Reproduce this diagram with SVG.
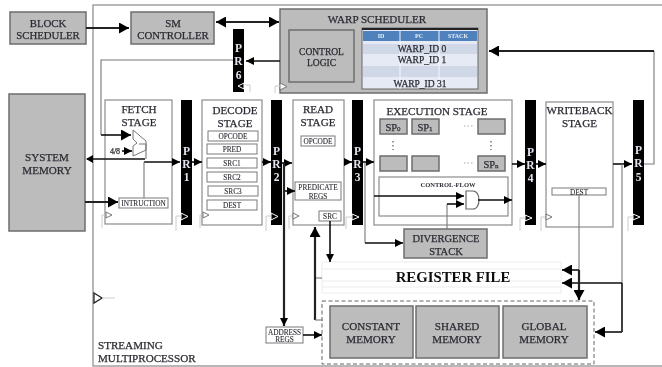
<svg xmlns="http://www.w3.org/2000/svg" width="662" height="367" viewBox="0 0 662 367">
<style>
text{font-family:"Liberation Serif","Times New Roman",serif;fill:#2c2c34;stroke:#2c2c34;stroke-width:0.25;text-anchor:middle}
.g{fill:#bcbcbc;stroke:#6e6e6e;stroke-width:1.5}
.s{fill:#fff;stroke:#8c8c8c;stroke-width:1.2}
.f{fill:#fff;stroke:#7a7a7a;stroke-width:1}
.pr{fill:#000}
.pt{fill:#e4e4f0;stroke:none;font-size:11.500px;font-weight:bold}
.l{font-size:10.800px}
.m{font-size:11.100px}
.t{font-size:7.300px;stroke-width:0.1}
.w{font-size:9.500px}
.sp{font-size:10.500px}
.c{fill:none;stroke:#111;stroke-width:1.6}
.c2{fill:none;stroke:#777;stroke-width:1.1}
.c3{fill:none;stroke:#222;stroke-width:2.2}
.clk{fill:#fff;stroke:#777;stroke-width:1}
.clkb{fill:#000;stroke:#fff;stroke-width:1}
.tick{fill:none;stroke:#ccc;stroke-width:1}
.rf{fill:none;stroke:#ececec;stroke-width:1}
</style>
<defs>
<filter id="soft" x="0" y="0" width="100%" height="100%"><feGaussianBlur stdDeviation="0.35"/></filter>
<marker id="a" markerUnits="userSpaceOnUse" markerWidth="11" markerHeight="11" refX="10" refY="5.500" orient="auto-start-reverse"><path d="M0 0L10 5.500L0 11Z" fill="#000"/></marker>
<marker id="b" markerUnits="userSpaceOnUse" markerWidth="9" markerHeight="8" refX="8" refY="4" orient="auto-start-reverse"><path d="M0 0L8 4L0 8Z" fill="#000"/></marker>
</defs>
<g filter="url(#soft)">
<rect width="662" height="367" fill="#fff"/>
<rect x="93" y="5" width="575" height="361" fill="#fff" stroke="#999" stroke-width="1.4"/>

<g id="block-scheduler"><rect class="g" x="10" y="12" width="76" height="32"/><text class="l" x="48" y="26.500">BLOCK</text><text class="l" x="48" y="39">SCHEDULER</text></g>
<g id="sm-controller"><rect class="g" x="131" y="12" width="83" height="32"/><text class="l" x="173" y="26.500">SM</text><text class="l" x="173" y="39">CONTROLLER</text></g>
<g id="warp-scheduler">
<rect class="g" x="280" y="9" width="207" height="84"/>
<text class="m" x="377" y="23">WARP SCHEDULER</text>
<rect class="g" x="289" y="30" width="65" height="52"/>
<text class="w" x="321.500" y="55">CONTROL</text><text class="w" x="321.500" y="66">LOGIC</text>
<rect x="362" y="28" width="116" height="61" fill="#e6eaf4" stroke="#666" stroke-width="1"/>
<rect x="362" y="28" width="116" height="2" fill="#222"/>
<rect x="363" y="31" width="114" height="10" fill="#4f81bd"/>
<rect x="363" y="44" width="114" height="10" fill="#d0d8e8"/>
<rect x="363" y="66" width="114" height="11" fill="#d0d8e8"/>
<path d="M400 31V89M439 31V89" stroke="#f4f6fb" stroke-width="1" fill="none"/>
<text x="381" y="38" font-size="6" font-weight="bold" style="fill:#e8eef8;stroke:none">ID</text>
<text x="419" y="38" font-size="6" font-weight="bold" style="fill:#e8eef8;stroke:none">PC</text>
<text x="458" y="38" font-size="6" font-weight="bold" style="fill:#e8eef8;stroke:none">STACK</text>
<text class="w" x="422" y="52">WARP_ID 0</text>
<text class="w" x="422" y="63">WARP_ID 1</text>
<text class="w" x="420" y="87">WARP_ID 31</text>
</g>
<g id="pr6"><rect class="pr" x="233" y="29" width="11" height="63"/><text class="pt" x="238.500" y="52">P</text><text class="pt" x="238.500" y="65">R</text><text class="pt" x="238.500" y="79">6</text></g>
<g id="system-memory"><rect class="g" x="9" y="94" width="76" height="137"/><text class="m" x="47" y="161">SYSTEM</text><text class="m" x="47" y="174">MEMORY</text></g>

<g id="fetch-stage">
<rect class="s" x="105" y="100" width="67" height="124"/>
<text class="m" x="139" y="113">FETCH</text><text class="m" x="139" y="126">STAGE</text>
<path d="M133 130L146 141V150L133 156V146L137 143L133 139Z" fill="#fff" stroke="#777" stroke-width="1"/>
<text x="115" y="154" font-size="8">4/8</text>
<g><rect class="f" x="119" y="198" width="49" height="10"/><text class="t" x="143.500" y="206">INTRUCTION</text></g>
</g>
<g id="pr1"><rect class="pr" x="181" y="100" width="11" height="125"/><text class="pt" x="186.500" y="155">P</text><text class="pt" x="186.500" y="168">R</text><text class="pt" x="186.500" y="181">1</text></g>
<g id="decode-stage">
<rect class="s" x="202" y="100" width="60" height="125"/>
<text class="m" x="235" y="114">DECODE</text><text class="m" x="235" y="127">STAGE</text>
<rect class="f" x="208" y="131" width="50" height="10"/><text class="t" x="233" y="139">OPCODE</text>
<rect class="f" x="207" y="144" width="50" height="10"/><text class="t" x="232" y="152">PRED</text>
<rect class="f" x="207" y="158" width="50" height="10"/><text class="t" x="232" y="166">SRC1</text>
<rect class="f" x="207" y="172" width="50" height="10"/><text class="t" x="232" y="180">SRC2</text>
<rect class="f" x="208" y="186" width="50" height="10"/><text class="t" x="233" y="194">SRC3</text>
<rect class="f" x="207" y="200" width="50" height="10"/><text class="t" x="232" y="208">DEST</text>
</g>
<g id="pr2"><rect class="pr" x="271" y="100" width="11" height="125"/><text class="pt" x="276.500" y="155">P</text><text class="pt" x="276.500" y="168">R</text><text class="pt" x="276.500" y="181">2</text></g>
<g id="read-stage">
<rect class="s" x="293" y="100" width="51" height="125"/>
<text class="m" x="318" y="113">READ</text><text class="m" x="318" y="126">STAGE</text>
<rect class="f" x="301" y="136" width="34" height="10"/><text class="t" x="318" y="144">OPCODE</text>
<rect class="f" x="295" y="182" width="46" height="18"/><text class="t" x="318" y="189.500">PREDICATE</text><text class="t" x="318" y="198.500">REGS</text>
<rect class="f" x="319" y="211" width="22" height="10"/><text class="t" x="330" y="219">SRC</text>
</g>
<g id="pr3"><rect class="pr" x="352" y="100" width="11" height="125"/><text class="pt" x="357.500" y="155">P</text><text class="pt" x="357.500" y="168">R</text><text class="pt" x="357.500" y="181">3</text></g>
<g id="execution-stage">
<rect class="s" x="374" y="100" width="138" height="125"/>
<text class="m" x="437" y="115">EXECUTION STAGE</text>
<rect class="g" x="380" y="119" width="27" height="15"/><text class="sp" x="393" y="131">SP<tspan font-size="7">0</tspan></text>
<rect class="g" x="412" y="119" width="27" height="15"/><text class="sp" x="425" y="131">SP<tspan font-size="7">1</tspan></text>
<rect class="g" x="478" y="119" width="27" height="15"/>
<rect class="g" x="380" y="156" width="27" height="15"/>
<rect class="g" x="412" y="156" width="27" height="15"/>
<rect class="g" x="478" y="156" width="27" height="15"/><text class="sp" x="491" y="168">SP<tspan font-size="7">n</tspan></text>
<path d="M393 141V150M491 141V150" stroke="#777" stroke-width="1.500" stroke-dasharray="1.500 2.500" fill="none"/>
<path d="M464 126H474M464 163H474" stroke="#aaa" stroke-width="1" stroke-dasharray="1.500 2" fill="none"/>
<rect class="s" x="379" y="177" width="129" height="39"/>
<text x="448" y="187" font-size="6.500" font-weight="bold" style="stroke:none">CONTROL-FLOW</text>
</g>
<g id="pr4"><rect class="pr" x="525" y="100" width="11" height="125"/><text class="pt" x="530.500" y="156">P</text><text class="pt" x="530.500" y="169">R</text><text class="pt" x="530.500" y="182">4</text></g>
<g id="writeback-stage">
<rect class="s" x="546" y="102" width="67" height="125"/>
<text class="m" x="579.500" y="114">WRITEBACK</text><text class="m" x="579.500" y="127">STAGE</text>
<rect class="f" x="552" y="188" width="54" height="7"/><text class="t" x="579" y="195">DEST</text>
</g>
<g id="pr5"><rect class="pr" x="633" y="100" width="11" height="125"/><text class="pt" x="638.500" y="154">P</text><text class="pt" x="638.500" y="167">R</text><text class="pt" x="638.500" y="181">5</text></g>
<g id="divergence-stack"><rect class="g" x="404" y="229" width="83" height="29"/><text class="m" x="446" y="241.500" style="font-size:10.500px">DIVERGENCE</text><text class="m" x="446" y="255" style="font-size:10.500px">STACK</text></g>
<g id="register-file">
<rect class="rf" x="322" y="262" width="239" height="31"/>
<path class="rf" d="M322 269H561M322 281H561M322 287H561"/>
<text x="453" y="282" font-size="14.800" font-weight="bold" style="fill:#111;stroke:none">REGISTER FILE</text>
</g>
<g id="memory">
<rect x="322" y="301" width="272" height="63" fill="#fff" stroke="#666" stroke-width="1" stroke-dasharray="4 2.500"/>
<rect class="g" x="330" y="306" width="83" height="52"/><text class="m" x="371" y="330">CONSTANT</text><text class="m" x="371" y="343">MEMORY</text>
<rect class="g" x="416" y="306" width="83" height="52"/><text class="m" x="457" y="330">SHARED</text><text class="m" x="457" y="343">MEMORY</text>
<rect class="g" x="503" y="306" width="84" height="52"/><text class="m" x="544" y="330">GLOBAL</text><text class="m" x="544" y="343">MEMORY</text>
</g>
<g id="address-regs"><rect class="f" x="266" y="327" width="37" height="16"/><text class="t" x="284.500" y="334.500">ADDRESS</text><text class="t" x="284.500" y="342">REGS</text></g>
<text class="m" x="98" y="349" style="text-anchor:start">STREAMING</text>
<text class="m" x="98" y="362" style="text-anchor:start">MULTIPROCESSOR</text>

<g id="connectors">
<path class="c3" d="M86 28H129" marker-end="url(#a)"/>
<path class="c3" d="M216 22H279" marker-start="url(#a)" marker-end="url(#a)"/>
<path class="c" d="M280 61H246" marker-end="url(#b)"/>
<path class="c2" d="M233 60H101V135"/>
<path class="c" d="M101 135H131" marker-end="url(#a)"/>
<path class="c" d="M122 151H132" marker-end="url(#b)"/>
<path class="c" d="M87 159H145"/><path d="M93 155L86 159L93 163Z" fill="#000"/>
<path class="c2" d="M139 144H146V159"/>
<path class="c" d="M144 162H180" marker-end="url(#b)"/>
<path class="c2" d="M144 162V198"/>
<path class="c3" d="M85 202H118" marker-end="url(#a)"/>
<path class="c" d="M192 162H202" marker-end="url(#b)"/>
<path class="c" d="M262 162H271" marker-end="url(#b)"/>
<path class="c" d="M282 163H292" marker-end="url(#b)"/>
<path class="c" d="M284 191H295" marker-end="url(#b)"/>
<path class="c3" d="M284 163V326" marker-end="url(#b)"/>
<path class="c" d="M344 162H352" marker-end="url(#b)"/>
<path class="c" d="M363 162H374" marker-end="url(#b)"/>
<path class="c2" d="M365 163V243"/>
<path class="c" d="M365 243H403" marker-end="url(#b)"/>
<path class="c" d="M374 196H464" marker-end="url(#b)"/>
<path class="c2" d="M447 229V204"/>
<path class="c" d="M447 204H464" marker-end="url(#b)"/>
<path d="M466 191H473C481 191 481 209 473 209H466Z" fill="#fff" stroke="#666" stroke-width="1.200"/>
<path class="c" d="M478 200H512" marker-end="url(#b)"/>
<path class="c" d="M512 164H525" marker-end="url(#b)"/>
<path class="c" d="M536 164H546" marker-end="url(#b)"/>
<path class="c" d="M613 164H632" marker-end="url(#b)"/>
<path class="c2" d="M644 164H654V51"/>
<path class="c3" d="M654 51H489" marker-end="url(#a)"/>
<path class="c2" d="M622 164V283"/>
<path class="c" d="M622 283H562" marker-end="url(#a)"/>
<path class="c" d="M622 283V332"/>
<path class="c" d="M622 332H595" marker-end="url(#a)"/>
<path class="c2" d="M579 195V270"/>
<path class="c" d="M579 270H562" marker-end="url(#a)"/>
<path class="c3" d="M579 270V300" marker-end="url(#a)"/>
<path class="c" d="M330 221V262" marker-end="url(#b)"/>
<path class="c2" d="M315 278H322"/>
<path class="c3" d="M315 320V227" marker-end="url(#a)"/>
<path class="c2" d="M315 320H323"/>
<path class="c" d="M303 335H322" marker-end="url(#b)"/>
</g>

<g id="clocks">
<path class="clk" d="M106 212L112 215L106 218Z"/><path class="tick" d="M102 228V215H105"/>
<path class="clkb" d="M181 213L188 216.500L181 220Z"/><path class="tick" d="M176 231V216H181"/>
<path class="clk" d="M203 212L209 215L203 218Z"/><path class="tick" d="M200 228V215H202"/>
<path class="clkb" d="M271 213L278 216.500L271 220Z"/><path class="tick" d="M266 231V216H271"/>
<path class="clk" d="M293 213L299 216L293 219Z"/><path class="tick" d="M289 229V216H292"/>
<path class="clkb" d="M352 214L359 217L352 220Z"/><path class="tick" d="M346 229V217H352"/>
<path class="clkb" d="M525 215L532 218L525 221Z"/><path class="tick" d="M520 231V218H525"/>
<path class="clk" d="M546 214L552 217L546 220Z"/><path class="tick" d="M541 231V217H545"/>
<path class="clkb" d="M633 214L640 217L633 220Z"/><path class="tick" d="M628 231V217H633"/>
<path class="clkb" d="M244 83L238 86L244 89Z"/><path class="tick" d="M250 92V85H245"/>
<path class="clk" d="M280 83L287 86.500L280 90Z"/><path class="tick" d="M275 93V86H280"/>
<path d="M94 293L102 298L94 303Z" fill="#fff" stroke="#222" stroke-width="1.300"/><path class="tick" d="M102 298H115"/>
</g>
</g>
</svg>
